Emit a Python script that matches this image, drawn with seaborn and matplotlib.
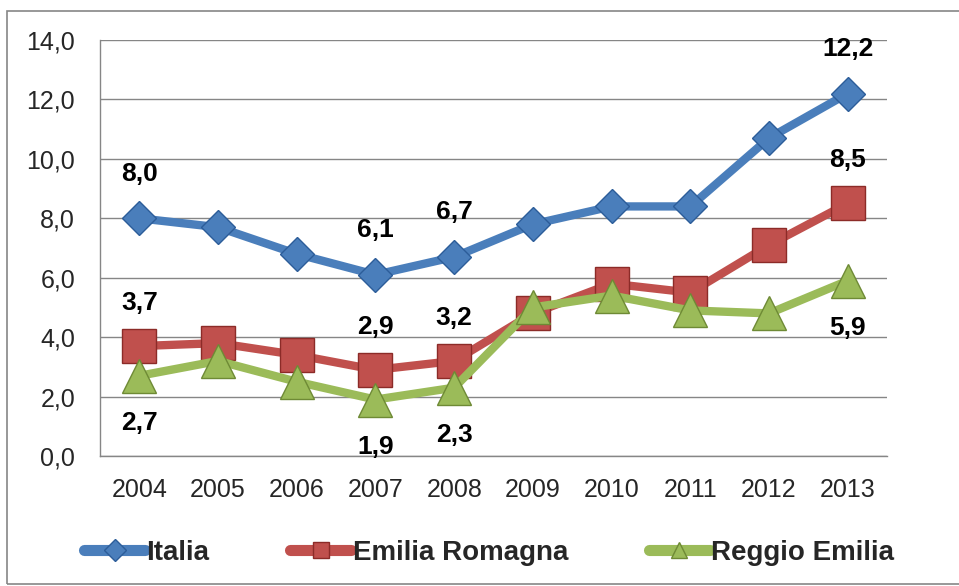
import numpy as np
import pandas as pd
import matplotlib
matplotlib.use("Agg")
import matplotlib.pyplot as plt
import seaborn as sns
from matplotlib.lines import Line2D
from matplotlib.patches import Rectangle

# ── Data ──────────────────────────────────────────────────────────────────────
years = ["2004", "2005", "2006", "2007", "2008", "2009", "2010", "2011", "2012", "2013"]
italia = [8.0, 7.7, 6.8, 6.1, 6.7, 7.8, 8.4, 8.4, 10.7, 12.2]
emilia_romagna = [3.7, 3.8, 3.4, 2.9, 3.2, 4.8, 5.8, 5.5, 7.1, 8.5]
reggio_emilia = [2.7, 3.2, 2.5, 1.9, 2.3, 5.0, 5.4, 4.9, 4.8, 5.9]

series_names = ["Italia", "Emilia Romagna", "Reggio Emilia"]
colours = {"Italia": "#4a7ebb", "Emilia Romagna": "#c0504d", "Reggio Emilia": "#9bbb59"}
edges = {"Italia": "#2c5d99", "Emilia Romagna": "#8c2b28", "Reggio Emilia": "#6e8a35"}
marker_map = {"Italia": "D", "Emilia Romagna": "s", "Reggio Emilia": "^"}
marker_size = {"Italia": 17, "Emilia Romagna": 24, "Reggio Emilia": 24}

# which year indices carry a value label
labelled = [0, 3, 4, 9]

df = pd.DataFrame({
    "year": np.tile(np.arange(len(years)), 3),
    "value": italia + emilia_romagna + reggio_emilia,
    "serie": np.repeat(series_names, len(years)),
})

# ── Plot ──────────────────────────────────────────────────────────────────────
sns.set_style("white")
plt.rcParams["font.family"] = ["Liberation Sans", "DejaVu Sans"]

fig = plt.figure(figsize=(9.59, 5.86), dpi=100)
ax = fig.add_axes([0.1043, 0.2218, 0.8207, 0.7099])

for name in series_names:
    sub = df[df["serie"] == name]
    sns.lineplot(data=sub, x="year", y="value", ax=ax, color=colours[name],
                 linewidth=6, marker=marker_map[name], markersize=marker_size[name],
                 markerfacecolor=colours[name], markeredgecolor=edges[name],
                 markeredgewidth=1, legend=False, zorder=3)

def put_labels(vals, dy):
    for i in labelled:
        ax.annotate(f"{vals[i]:.1f}".replace(".", ","), (i, vals[i]),
                    xytext=(0, dy), textcoords="offset points",
                    ha="center", va="center", fontsize=19, fontweight="bold",
                    color="black", zorder=5)

put_labels(italia, 32)
put_labels(emilia_romagna, 31)
put_labels(reggio_emilia, -34)

ax.set_xlim(-0.5, len(years) - 0.5)
ax.set_ylim(0, 14)
yt = np.arange(0, 14.1, 2)
ax.set_yticks(yt)
ax.set_yticklabels([f"{v:.1f}".replace(".", ",") for v in yt])
ax.set_xticks(np.arange(len(years)))
ax.set_xticklabels(years)
ax.set_xticks(np.arange(-0.5, len(years)), minor=True)
ax.tick_params(axis="x", which="major", length=0, labelsize=18, pad=16)
ax.tick_params(axis="x", which="minor", length=6, color="#868686", width=1)
ax.tick_params(axis="y", length=6, color="#868686", labelsize=18, pad=12)
ax.set_xlabel("")
ax.set_ylabel("")

ax.yaxis.grid(True, color="#868686", linewidth=1)
ax.set_axisbelow(True)
for s in ["top", "right"]:
    ax.spines[s].set_visible(False)
for s in ["left", "bottom"]:
    ax.spines[s].set_color("#868686")
    ax.spines[s].set_linewidth(1)

# ── Legend ────────────────────────────────────────────────────────────────────
handles = [Line2D([0], [0], color=colours[n], linewidth=8, solid_capstyle="round",
                  marker=marker_map[n], markersize=11, markerfacecolor=colours[n],
                  markeredgecolor=edges[n])
           for n in series_names]
fig.legend(handles, series_names, loc="center", bbox_to_anchor=(0.51, 0.056),
           ncol=3, frameon=False, handlelength=2.2, handletextpad=0.05,
           columnspacing=2.9, prop={"size": 20, "weight": "bold"})

# figure frame
fig.patches.append(Rectangle((7 / 959, 2 / 586), 1000 / 959, 573 / 586,
                             transform=fig.transFigure, fill=False,
                             edgecolor="#868686", linewidth=1.2))

plt.savefig("out.png", dpi=100)
plt.close()
